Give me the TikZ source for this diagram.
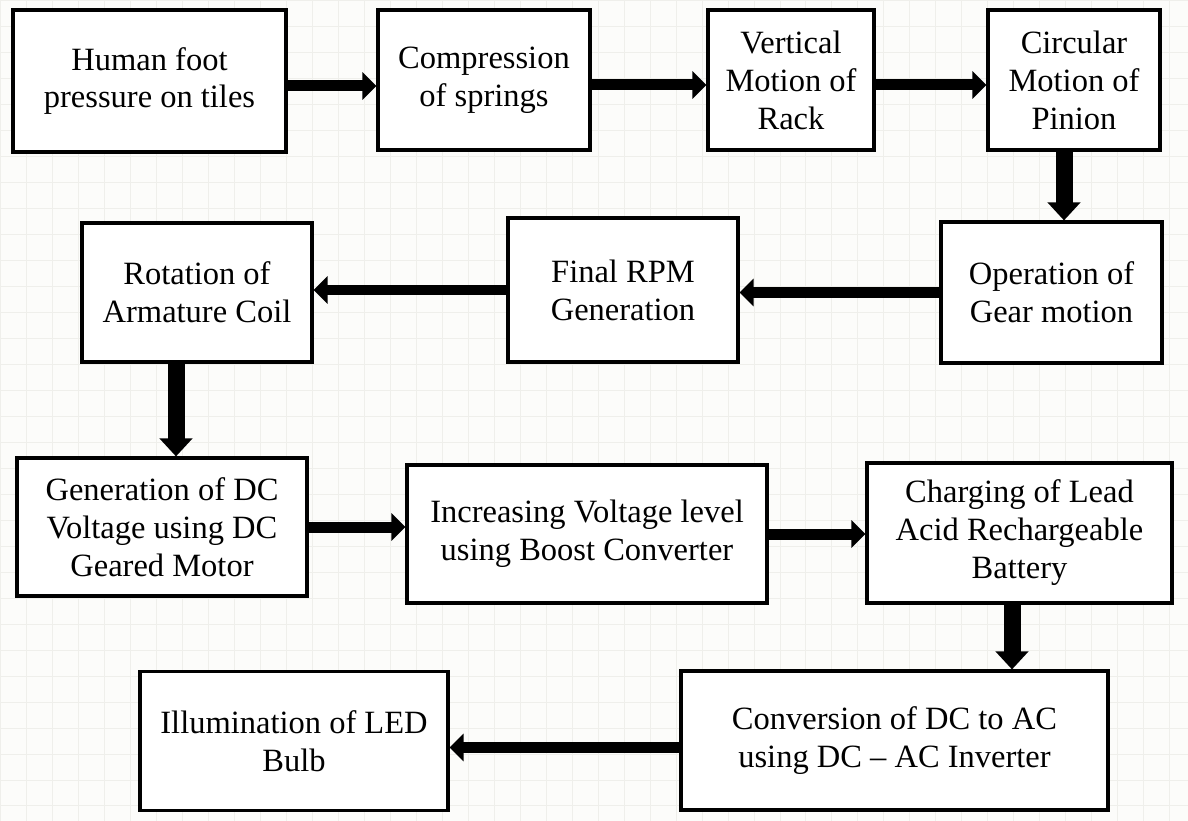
\documentclass[tikz,border=0pt]{standalone}
\usepackage{fontspec}
\setmainfont{Liberation Serif}
\usetikzlibrary{arrows.meta, positioning}
\definecolor{gridgray}{HTML}{EFEFEB}
\definecolor{paper}{HTML}{FCFCFA}

\begin{document}
\begin{tikzpicture}[x=0.02cm, y=-0.02cm,
  block/.style={rectangle, draw, line width=1.8pt, fill=white, inner sep=2pt, font=\fontsize{18.5}{21.6}\selectfont, align=center},
  arrow/.style={-{Triangle[length=0.28cm, width=0.54cm]}, line width=0.22cm},
  bigarrow/.style={-{Triangle[length=0.36cm, width=0.64cm]}, line width=0.34cm}]

\useasboundingbox (0,0) rectangle (1188,821);
\fill[paper] (0,0) rectangle (1188,821);
\draw[gridgray, line width=0.4pt, step=0.52cm] (0,0) grid (1188,821);

\node[block, minimum width=5.46cm, minimum height=2.84cm] (foot) at (149.5,81) {Human foot\\pressure on tiles};
\node[block, minimum width=4.24cm, minimum height=2.8cm] (springs) at (484,80) {Compression\\of springs};
\node[block, minimum width=3.32cm, minimum height=2.8cm] (rack) at (791,80) {Vertical\\Motion of\\Rack};
\node[block, minimum width=3.44cm, minimum height=2.8cm] (pinion) at (1074,80) {Circular\\Motion of\\Pinion};
\node[block, minimum width=4.42cm, minimum height=2.82cm] (gear) at (1051.5,292.5) {Operation of\\Gear motion};
\node[block, minimum width=4.6cm, minimum height=2.88cm] (rpm) at (623,290) {Final RPM\\Generation};
\node[block, minimum width=4.6cm, minimum height=2.78cm] (coil) at (197,292.5) {Rotation of\\Armature Coil};
\node[block, minimum width=5.8cm, minimum height=2.76cm] (dcgen) at (162,527) {Generation of DC\\Voltage using DC\\Geared Motor};
\node[block, minimum width=7.2cm, minimum height=2.76cm] (boost) at (587,534) {Increasing Voltage level\\using Boost Converter};
\node[block, minimum width=6.1cm, minimum height=2.8cm] (battery) at (1019.5,533) {Charging of Lead\\Acid Rechargeable\\Battery};
\node[block, minimum width=8.54cm, minimum height=2.78cm] (inverter) at (894.5,740.5) {Conversion of DC to AC\\using DC -- AC Inverter};
\node[block, minimum width=6.16cm, minimum height=2.78cm] (led) at (294,741) {Illumination of LED\\Bulb};

\draw[arrow] ([yshift=-0.1cm]foot.east) -- ([yshift=-0.1cm]foot.east -| springs.west);
\draw[arrow] ([yshift=-0.1cm]springs.east) -- ([yshift=-0.1cm]springs.east -| rack.west);
\draw[arrow] ([yshift=-0.1cm]rack.east) -- ([yshift=-0.1cm]rack.east -| pinion.west);
\draw[bigarrow] ([xshift=-0.2cm]pinion.south) -- ([xshift=-0.2cm]pinion.south |- gear.north);
\draw[arrow] (gear.west) -- (gear.west -| rpm.east);
\draw[arrow] (rpm.west) -- (rpm.west -| coil.east);
\draw[bigarrow] ([xshift=-0.42cm]coil.south) -- ([xshift=-0.42cm]coil.south |- dcgen.north);
\draw[arrow] (dcgen.east) -- (dcgen.east -| boost.west);
\draw[arrow] (boost.east) -- (boost.east -| battery.west);
\draw[bigarrow] ([xshift=-0.15cm]battery.south) -- ([xshift=-0.15cm]battery.south |- inverter.north);
\draw[arrow] ([yshift=-0.14cm]inverter.west) -- ([yshift=-0.14cm]inverter.west -| led.east);
\end{tikzpicture}
\end{document}
